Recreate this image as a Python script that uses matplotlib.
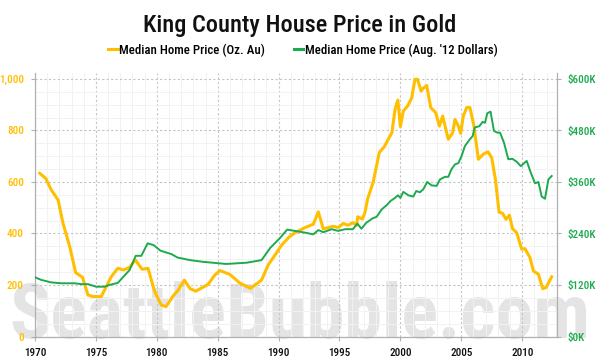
import matplotlib
matplotlib.use("Agg")
import matplotlib.pyplot as plt
from matplotlib.ticker import MultipleLocator, FuncFormatter
from matplotlib.lines import Line2D

plt.rcParams['font.family'] = ['Liberation Sans Narrow', 'Roboto Condensed', 'Oswald', 'Roboto', 'DejaVu Sans']
plt.rcParams['font.stretch'] = 'condensed'

title = "King County House Price in Gold"
label_gold = "Median Home Price (Oz. Au)"
label_usd = "Median Home Price (Aug. '12 Dollars)"
watermark = "SeattleBubble.com"

gold_years = [1970.39, 1970.88, 1971.34, 1971.9, 1972.3, 1972.85, 1973.34, 1973.9, 1974.35, 1974.76,
              1975.44, 1976.26, 1976.8, 1977.28, 1977.77, 1978.24, 1978.8, 1979.28, 1979.83, 1980.37,
              1980.75, 1981.35, 1981.77, 1982.26, 1982.73, 1983.2, 1984.2, 1984.77, 1985.19, 1986.0,
              1986.83, 1987.7, 1988.6, 1989.15, 1989.7, 1990.25, 1990.9, 1991.35, 1992.17, 1992.85,
              1993.26, 1993.67, 1994.08, 1994.5, 1994.9, 1995.3, 1995.7, 1996.1, 1996.4, 1996.5,
              1996.87, 1997.09, 1997.3, 1997.77, 1998.27, 1998.68, 1999.0, 1999.3, 1999.56, 1999.79,
              2000.0, 2000.24, 2000.6, 2000.93, 2001.2, 2001.4, 2001.7, 2001.83, 2002.16, 2002.49,
              2002.9, 2003.2, 2003.47, 2003.93, 2004.29, 2004.48, 2004.76, 2004.95, 2005.16, 2005.44,
              2005.71, 2006.04, 2006.4, 2006.8, 2007.2, 2007.5, 2007.8, 2008.1, 2008.4, 2008.67,
              2008.95, 2009.2, 2009.55, 2009.96, 2010.23, 2010.64, 2010.92, 2011.33, 2011.68, 2011.96,
              2012.42]
gold_oz = [634, 614, 569, 530, 440, 349, 248, 230, 161, 155,
           155, 232, 265, 258, 269, 297, 261, 265, 174, 122,
           116, 158, 181, 219, 186, 176, 202, 239, 256, 241,
           207, 187, 219, 278, 316, 355, 388, 403, 423, 436,
           484, 418, 423, 428, 423, 439, 432, 442, 432, 465,
           456, 481, 533, 600, 715, 737, 766, 791, 882, 918,
           815, 876, 895, 927, 999, 999, 953, 962, 975, 889,
           869, 817, 856, 766, 791, 843, 817, 789, 856, 889,
           889, 817, 688, 708, 717, 694, 610, 483, 478, 455,
           471, 419, 403, 339, 341, 306, 254, 242, 186, 190,
           232]

usd_years = [1970.0, 1970.5, 1971.34, 1972.2, 1973.26, 1973.8, 1974.35, 1975.03, 1975.7, 1976.1,
             1976.8, 1977.77, 1978.27, 1978.73, 1979.25, 1979.74, 1980.3, 1981.2, 1981.7, 1982.73,
             1983.8, 1985.7, 1987.4, 1988.6, 1989.3, 1990.1, 1990.7, 1991.35, 1992.17, 1992.85,
             1993.26, 1993.67, 1994.36, 1994.9, 1995.45, 1996.1, 1996.47, 1996.8, 1997.2, 1997.7,
             1998.05, 1998.46, 1998.87, 1999.2, 1999.56, 1999.8, 2000.0, 2000.24, 2000.65, 2001.06,
             2001.3, 2001.6, 2001.88, 2002.2, 2002.57, 2002.98, 2003.25, 2003.66, 2003.93, 2004.2,
             2004.48, 2004.76, 2005.03, 2005.3, 2005.66, 2005.93, 2006.1, 2006.48, 2006.75, 2006.95,
             2007.13, 2007.4, 2007.68, 2007.96, 2008.18, 2008.5, 2008.86, 2009.2, 2009.55, 2009.88,
             2010.37, 2010.7, 2011.05, 2011.33, 2011.6, 2011.87, 2012.15, 2012.42]
usd_k = [138, 132, 126, 124, 124, 122, 122, 116, 116, 120,
         125, 155, 188, 188, 217, 213, 200, 192, 184, 178,
         174, 169, 172, 178, 206, 229, 249, 246, 242, 238,
         248, 243, 250, 246, 250, 250, 263, 251, 265, 275,
         279, 296, 306, 316, 323, 329, 323, 337, 329, 326,
         339, 336, 343, 360, 352, 351, 366, 372, 372, 390,
         401, 404, 421, 444, 458, 467, 487, 490, 500, 498,
         520, 524, 479, 475, 475, 452, 413, 414, 407, 397,
         409, 382, 357, 360, 326, 321, 366, 374]

x_ticks = [1970, 1975, 1980, 1985, 1990, 1995, 2000, 2005, 2010]
gold_ticks = [0, 200, 400, 600, 800, 1000]
usd_ticks = [0, 120, 240, 360, 480, 600]

GOLD = '#FFBF00'
GREEN = '#1DAA4E'

fig = plt.figure(figsize=(6.0, 3.63), dpi=100)
ax = fig.add_axes([0.0583, 0.073, 0.8695, 0.725])
ax2 = ax.twinx()

ax.set_xlim(1970, 2012.83)
ax.set_ylim(0, 1022)
ax2.set_ylim(0, 613.2)

ax.set_axisbelow(True)
ax.xaxis.set_major_locator(plt.FixedLocator(x_ticks))
ax.yaxis.set_major_locator(plt.FixedLocator(gold_ticks))
ax.xaxis.set_minor_locator(MultipleLocator(1))
ax.yaxis.set_minor_locator(MultipleLocator(50))
ax.grid(which='minor', color='#f2f2f2', linewidth=0.7, linestyle='-')
ax.grid(which='major', color='#c4c4c4', linewidth=0.8, linestyle=(0, (2, 2)))

ax.text(0.5, 0.068, watermark, transform=fig.transFigure, ha='center', va='baseline',
        fontsize=55, fontweight='bold', color='#e4e4e4', zorder=0)

ax.plot(gold_years, gold_oz, color=GOLD, linewidth=2.2, solid_joinstyle='round', zorder=3)
ax2.plot(usd_years, usd_k, color=GREEN, linewidth=1.4, solid_joinstyle='round', zorder=3)

ax2.yaxis.set_major_locator(plt.FixedLocator(usd_ticks))
ax2.yaxis.set_major_formatter(FuncFormatter(lambda v, p: f"${int(v)}K"))
ax.yaxis.set_major_formatter(FuncFormatter(lambda v, p: f"{int(v):,}"))

for a in (ax, ax2):
    a.spines['top'].set_visible(False)
    for s in ('left', 'right', 'bottom'):
        a.spines[s].set_color('#b0b0b0')
        a.spines[s].set_linewidth(0.8)

ax.tick_params(axis='y', which='major', colors='#b0b0b0', labelcolor=GOLD, length=3, pad=5, labelsize=8)
ax.tick_params(axis='x', which='major', colors='#b0b0b0', labelcolor='#111111', length=3, pad=5, labelsize=8)
ax.tick_params(which='minor', length=0)
ax2.tick_params(axis='y', which='major', colors='#b0b0b0', labelcolor=GREEN, length=3, pad=5, labelsize=8)
ax2.tick_params(which='minor', length=0)
for lab in ax.get_yticklabels() + ax2.get_yticklabels() + ax.get_xticklabels():
    lab.set_fontweight('medium')

fig.text(0.5, 0.93, title, ha='center', va='center', fontsize=17.5, fontweight='medium', color='#111111')

handles = [Line2D([], [], color=GOLD, linewidth=2.2), Line2D([], [], color=GREEN, linewidth=2.2)]
fig.legend(handles, [label_gold, label_usd], loc='center', bbox_to_anchor=(0.505, 0.862),
           ncol=2, frameon=False, handlelength=0.75, handletextpad=0.15,
           columnspacing=2.2, prop={'weight': 'medium', 'size': 9.3})

fig.savefig('out.png', dpi=100)
